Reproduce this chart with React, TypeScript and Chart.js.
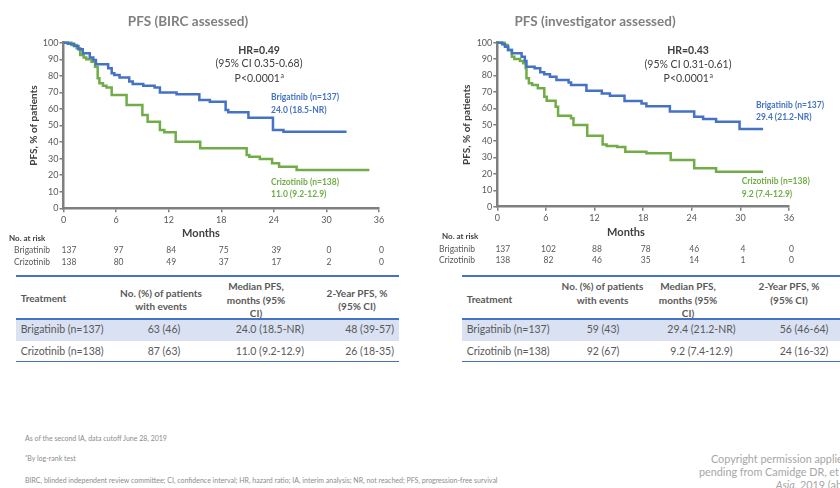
import React, { useEffect, useRef } from "react";
import { Chart, registerables } from "chart.js";
Chart.register(...registerables);

// ---------- data ----------
const monthTicks = [0, 6, 12, 18, 24, 30, 36];
const pctTicks = [0, 10, 20, 30, 40, 50, 60, 70, 80, 90, 100];

// PFS (BIRC assessed)
const bircBrigT = [0, 0.5, 1.2, 1.7, 2.2, 3.0, 3.4, 3.7, 5.1, 5.5, 5.8, 6.4, 7.5, 7.9, 9.1, 10.4, 11.0, 12.9, 15.5, 16.7, 18.5, 18.8, 21.1, 23.9, 25.1, 32.3];
const bircBrigS = [100, 99.3, 98, 96, 93.6, 91, 89.6, 87, 84.5, 81.5, 80.5, 79, 76.5, 75, 74, 73, 70, 68.8, 65.4, 64.4, 59.4, 58, 54.7, 47.3, 46.3, 46.3];
const bircCrizT = [0, 0.9, 1.5, 1.9, 2.3, 2.6, 3.2, 3.6, 3.9, 4.1, 4.5, 4.9, 5.5, 7.2, 9.0, 9.6, 11.0, 11.5, 12.8, 15.6, 20.9, 21.2, 22.4, 23.8, 24.6, 26.6, 34.9];
const bircCrizS = [100, 98.6, 96.6, 92.6, 91, 90, 88.5, 85.5, 78.5, 75.5, 74, 73, 68.4, 62.4, 56.3, 52.3, 47.3, 45.9, 40.2, 36.2, 32.2, 31.2, 29.8, 27.2, 25.1, 23.1, 23.1];
const bircRiskBrig = [137, 97, 84, 75, 39, 0, 0];
const bircRiskCriz = [138, 80, 49, 37, 17, 2, 0];

// PFS (investigator assessed)
const invBrigT = [0, 0.6, 0.95, 1.35, 1.8, 3.0, 3.4, 3.6, 4.6, 5.3, 5.8, 6.5, 7.3, 8.8, 9.1, 11.0, 12.9, 13.9, 15.7, 17.8, 18.4, 21.3, 24.3, 25.4, 27.0, 29.9, 32.8];
const invBrigS = [100, 99, 97.6, 95.5, 93.5, 91.5, 88.8, 85.4, 84.4, 82, 80.7, 79.3, 77.3, 75.8, 74.2, 70.7, 69.1, 67.7, 64.4, 63, 61.3, 58, 54.9, 53.5, 51.8, 47.4, 47.4];
const invCrizT = [0, 0.9, 1.3, 1.8, 2.1, 2.8, 3.2, 3.5, 3.6, 3.9, 4.3, 5.0, 5.8, 6.1, 7.2, 7.5, 9.1, 9.4, 11.1, 13.0, 13.5, 14.8, 15.8, 18.4, 21.4, 24.3, 27.0, 32.8];
const invCrizS = [100, 98.6, 95.5, 91.5, 90, 88.8, 87.4, 84.4, 78.3, 75.2, 74.2, 72.2, 67.1, 64.6, 61, 55.5, 53.9, 49.8, 43.3, 38, 37, 36.4, 33.5, 32.6, 28.5, 23.4, 21.3, 21.3];
const invRiskBrig = [137, 102, 88, 78, 46, 4, 0];
const invRiskCriz = [138, 82, 46, 35, 14, 1, 0];

// tables
const tableHeaders = [
  ["Treatment"],
  ["No. (%) of patients", "with events"],
  ["Median PFS,", "months (95%", "CI)"],
  ["2-Year PFS, %", "(95% CI)"],
];
const bircRows = [
  ["Brigatinib (n=137)", "63 (46)", "24.0 (18.5-NR)", "48 (39-57)"],
  ["Crizotinib (n=138)", "87 (63)", "11.0 (9.2-12.9)", "26 (18-35)"],
];
const invRows = [
  ["Brigatinib (n=137)", "59 (43)", "29.4 (21.2-NR)", "56 (46-64)"],
  ["Crizotinib (n=138)", "92 (67)", "9.2 (7.4-12.9)", "24 (16-32)"],
];

// ---------- styles ----------
const BLUE = "#4472C4";
const GREEN = "#70AD47";
const DARK = "#404040";
const GRAY = "#595959";
const FONT = "Lato, 'Open Sans', sans-serif";

type Txt = { t: string; x: number; y: number; a: CanvasTextAlign; f: string; c: string; sup?: string };

type Panel = {
  left: number; width: number; height: number;
  pad: { top: number; right: number; bottom: number; left: number };
  yAxisW: number; yTitlePad: number;
  brigT: number[]; brigS: number[]; crizT: number[]; crizS: number[];
  riskBrig: number[]; riskCriz: number[];
  riskY: [number, number]; riskLabelX: number;
  texts: Txt[];
};

const panels: Panel[] = [
  {
    left: 0, width: 400, height: 270,
    pad: { top: 42.7, right: 21, bottom: 39.7, left: 0 },
    yAxisW: 63.5, yTitlePad: 27.3,
    brigT: bircBrigT, brigS: bircBrigS, crizT: bircCrizT, crizS: bircCrizS,
    riskBrig: bircRiskBrig, riskCriz: bircRiskCriz,
    riskY: [250.7, 262], riskLabelX: 50,
    texts: [
      { t: "PFS (BIRC assessed)", x: 188, y: 21.7, a: "center", f: `bold 13.5px ${FONT}`, c: "#808080" },
      { t: "HR=0.49", x: 259, y: 50.5, a: "center", f: `bold 10.5px ${FONT}`, c: DARK },
      { t: "(95% CI 0.35-0.68)", x: 259, y: 64, a: "center", f: `10.5px ${FONT}`, c: DARK },
      { t: "P<0.0001", sup: "a", x: 259, y: 78.5, a: "center", f: `10.5px ${FONT}`, c: DARK },
      { t: "Brigatinib (n=137)", x: 271, y: 97.7, a: "left", f: `bold 8.5px ${FONT}`, c: BLUE },
      { t: "24.0 (18.5-NR)", x: 271, y: 110, a: "left", f: `bold 8.5px ${FONT}`, c: BLUE },
      { t: "Crizotinib (n=138)", x: 271, y: 182, a: "left", f: `bold 8.5px ${FONT}`, c: GREEN },
      { t: "11.0 (9.2-12.9)", x: 271, y: 194, a: "left", f: `bold 8.5px ${FONT}`, c: GREEN },
      { t: "Months", x: 201, y: 233, a: "center", f: `bold 11px ${FONT}`, c: DARK },
      { t: "No. at risk", x: 9, y: 238.3, a: "left", f: `bold 8px ${FONT}`, c: DARK },
    ],
  },
  {
    left: 420, width: 420, height: 270,
    pad: { top: 42.7, right: 51, bottom: 41.3, left: 0 },
    yAxisW: 77.3, yTitlePad: 40.7,
    brigT: invBrigT, brigS: invBrigS, crizT: invCrizT, crizS: invCrizS,
    riskBrig: invRiskBrig, riskCriz: invRiskCriz,
    riskY: [249, 260.7], riskLabelX: 475,
    texts: [
      { t: "PFS (investigator assessed)", x: 595, y: 21.7, a: "center", f: `bold 13.5px ${FONT}`, c: "#808080" },
      { t: "HR=0.43", x: 688, y: 50.5, a: "center", f: `bold 10.5px ${FONT}`, c: DARK },
      { t: "(95% CI 0.31-0.61)", x: 688, y: 64.5, a: "center", f: `10.5px ${FONT}`, c: DARK },
      { t: "P<0.0001", sup: "a", x: 688, y: 78.3, a: "center", f: `10.5px ${FONT}`, c: DARK },
      { t: "Brigatinib (n=137)", x: 756, y: 105.7, a: "left", f: `bold 8.5px ${FONT}`, c: BLUE },
      { t: "29.4 (21.2-NR)", x: 756, y: 117.7, a: "left", f: `bold 8.5px ${FONT}`, c: BLUE },
      { t: "Crizotinib (n=138)", x: 741.7, y: 181.7, a: "left", f: `bold 8.5px ${FONT}`, c: GREEN },
      { t: "9.2 (7.4-12.9)", x: 741.7, y: 194, a: "left", f: `bold 8.5px ${FONT}`, c: GREEN },
      { t: "Months", x: 626, y: 232, a: "center", f: `bold 11px ${FONT}`, c: DARK },
      { t: "No. at risk", x: 442, y: 236.7, a: "left", f: `bold 8px ${FONT}`, c: DARK },
    ],
  },
];

function KMChart({ p }: { p: Panel }) {
  const ref = useRef<HTMLCanvasElement>(null);
  useEffect(() => {
    const canvas = ref.current!;
    const pts = (t: number[], s: number[]) => t.map((x, i) => ({ x, y: s[i] }));
    const annot = {
      id: "annot",
      afterDraw(chart: any) {
        const ctx = chart.ctx as CanvasRenderingContext2D;
        const xs = chart.scales.x;
        ctx.save();
        ctx.textBaseline = "middle";
        for (const tx of p.texts) {
          ctx.font = tx.f;
          ctx.fillStyle = tx.c;
          if (tx.sup) {
            const w1 = ctx.measureText(tx.t).width;
            const supFont = tx.f.replace(/[\d.]+px/, "7px");
            ctx.font = supFont;
            const w2 = ctx.measureText(tx.sup).width;
            const x0 = tx.x - p.left - (w1 + w2) / 2;
            ctx.textAlign = "left";
            ctx.font = tx.f;
            ctx.fillText(tx.t, x0, tx.y);
            ctx.font = supFont;
            ctx.fillText(tx.sup, x0 + w1 + 0.5, tx.y - 3);
          } else {
            ctx.textAlign = tx.a;
            ctx.fillText(tx.t, tx.x - p.left, tx.y);
          }
        }
        // number at risk
        ctx.font = `8.5px ${FONT}`;
        ctx.fillStyle = GRAY;
        ctx.textAlign = "right";
        ctx.fillText("Brigatinib", p.riskLabelX - p.left, p.riskY[0]);
        ctx.fillText("Crizotinib", p.riskLabelX - p.left, p.riskY[1]);
        ctx.textAlign = "center";
        monthTicks.forEach((m, i) => {
          const px = xs.getPixelForValue(m) + (i === 0 ? 5.5 : 2.5);
          ctx.fillText(String(p.riskBrig[i]), px, p.riskY[0]);
          ctx.fillText(String(p.riskCriz[i]), px, p.riskY[1]);
        });
        ctx.restore();
      },
    };
    const chart = new Chart(canvas, {
      type: "line",
      data: {
        datasets: [
          {
            label: "Brigatinib", data: pts(p.brigT, p.brigS), borderColor: BLUE, backgroundColor: BLUE,
            borderWidth: 2.5, stepped: "before", pointRadius: 0, fill: false, clip: false as any,
          },
          {
            label: "Crizotinib", data: pts(p.crizT, p.crizS), borderColor: GREEN, backgroundColor: GREEN,
            borderWidth: 2.5, stepped: "before", pointRadius: 0, fill: false, clip: false as any,
          },
        ],
      },
      options: {
        responsive: false,
        animation: false,
        devicePixelRatio: 1,
        layout: { padding: p.pad },
        font: { family: FONT },
        plugins: { legend: { display: false }, tooltip: { enabled: false }, title: { display: false } },
        scales: {
          x: {
            type: "linear", min: 0, max: 36,
            afterBuildTicks: (s: any) => { s.ticks = monthTicks.map((v) => ({ value: v })); },
            ticks: { font: { size: 9, family: FONT }, color: GRAY, padding: 2, maxRotation: 0, autoSkip: false },
            grid: { display: true, drawOnChartArea: false, drawTicks: true, tickLength: 4, color: "#7f7f7f", lineWidth: 1.5 },
            border: { display: true, color: "#7f7f7f", width: 2.5 },
            afterFit: (s: any) => { s.height = 22; },
          },
          y: {
            type: "linear", min: 0, max: 100,
            afterBuildTicks: (s: any) => { s.ticks = pctTicks.map((v) => ({ value: v })); },
            ticks: { font: { size: 9, family: FONT }, color: GRAY, padding: 1, autoSkip: false },
            grid: { display: true, drawOnChartArea: false, drawTicks: true, tickLength: 4, color: "#7f7f7f", lineWidth: 1.5 },
            border: { display: true, color: "#7f7f7f", width: 2.5 },
            title: {
              display: true, text: "PFS, % of patients", color: DARK,
              font: { size: 10, weight: "bold", family: FONT, lineHeight: 1.2 },
              padding: { top: p.yTitlePad, bottom: 0 },
            },
            afterFit: (s: any) => { s.width = p.yAxisW; },
          },
        },
      } as any,
      plugins: [annot],
    });
    return () => chart.destroy();
  }, [p]);
  return (
    <canvas
      ref={ref}
      width={p.width}
      height={p.height}
      style={{ position: "absolute", left: p.left, top: 0, width: p.width, height: p.height }}
    />
  );
}

function T({ x, y, a = "left", children, style }: any) {
  const tx = a === "center" ? "-50%" : a === "right" ? "-100%" : "0";
  return (
    <div
      style={{
        position: "absolute", left: x, top: y, transform: `translate(${tx}, -50%)`,
        whiteSpace: "nowrap", lineHeight: 1, ...style,
      }}
    >
      {children}
    </div>
  );
}

type TableCfg = {
  x0: number; x1: number; lines: number[]; bg: [number, number];
  headX: number[]; headA: string[]; headY: number[];
  dataX: number[]; dataA: string[]; rowY: number[]; rows: string[][];
};

const tables: TableCfg[] = [
  {
    x0: 16, x1: 399, lines: [276, 319, 361.7], bg: [319, 340.7],
    headX: [20.7, 161, 256, 357], headA: ["left", "center", "center", "center"], headY: [297.7, 292.7, 286, 292.7],
    dataX: [20.7, 164, 304, 394], dataA: ["left", "center", "right", "right"], rowY: [329.3, 350.7], rows: bircRows,
  },
  {
    x0: 461.7, x1: 845, lines: [276, 319, 361.7], bg: [319, 340.5],
    headX: [466.7, 602.5, 688, 789], headA: ["left", "center", "center", "center"], headY: [299, 286, 286, 286],
    dataX: [466.7, 603, 701.5, 804], dataA: ["left", "center", "center", "center"], rowY: [329, 350.7], rows: invRows,
  },
];

function Table({ c }: { c: TableCfg }) {
  return (
    <>
      <div style={{ position: "absolute", left: c.x0, width: c.x1 - c.x0, top: c.bg[0], height: c.bg[1] - c.bg[0], background: "#D9E1F2" }} />
      {c.lines.map((ly, i) => (
        <div key={"l" + i} style={{ position: "absolute", left: c.x0, width: c.x1 - c.x0, top: ly - 0.75, height: 1.5, background: BLUE }} />
      ))}
      {tableHeaders.map((lines, ci) =>
        lines.map((ln, li) => (
          <T key={`h${ci}-${li}`} x={c.headX[ci]} y={c.headY[ci] + li * 13.5} a={c.headA[ci]}
            style={{ fontWeight: 700, fontSize: 10, color: GRAY }}>{ln}</T>
        ))
      )}
      {c.rows.map((row, ri) =>
        row.map((cell, ci) => (
          <T key={`d${ri}-${ci}`} x={c.dataX[ci]} y={c.rowY[ri]} a={c.dataA[ci]}
            style={{ fontSize: 10.5, color: GRAY }}>{cell}</T>
        ))
      )}
    </>
  );
}

export default function App() {
  const foot = { fontSize: 7, color: "#8c8c8c" };
  const copy = { fontSize: 10.8, color: "#a6a6a6" };
  return (
    <div
      style={{
        position: "fixed", left: 0, top: 0, width: 840, height: 488, overflow: "hidden",
        background: "#fff", fontFamily: FONT,
      }}
    >
      {panels.map((p, i) => <KMChart key={i} p={p} />)}
      {tables.map((c, i) => <Table key={i} c={c} />)}
      <T x={25} y={438} style={foot}>As of the second IA, data cutoff June 28, 2019</T>
      <T x={25} y={458.3} style={foot}><sup style={{ fontSize: 4.5 }}>a</sup>By log-rank test</T>
      <T x={25} y={480} style={foot}>
        BIRC, blinded independent review committee; CI, confidence interval; HR, hazard ratio; IA, interim analysis; NR, not reached;  PFS, progression-free survival
      </T>
      <T x={711} y={459.3} style={copy}>Copyright permission applied/</T>
      <T x={699} y={472.3} style={copy}>pending from Camidge DR, et al.</T>
      <T x={775.7} y={485} style={copy}><i>Asia</i>, 2019 (abstract)</T>
    </div>
  );
}
